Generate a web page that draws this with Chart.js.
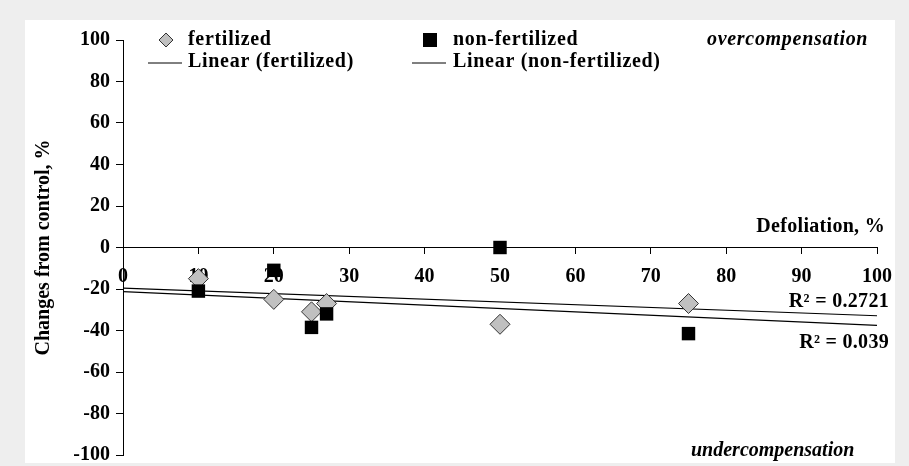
<!DOCTYPE html>
<html>
<head>
<meta charset="utf-8">
<script src="https://cdn.jsdelivr.net/npm/chart.js@4/dist/chart.umd.min.js"></script>
<style>
  html, body { margin: 0; padding: 0; background: #eeeeee; }
  #wrap { position: relative; width: 909px; height: 466px; }
  #panel { position: absolute; left: 25px; top: 20px; width: 870px; height: 443px; background: #ffffff; }
  #chart { position: absolute; left: 0; top: 0; }
</style>
</head>
<body>
<div id="wrap">
  <div id="panel"></div>
  <canvas id="chart" width="909" height="466"></canvas>
</div>
<script>
// Data
const defoliation = [10, 20, 25, 27, 50, 75];
const fertilized = [-15, -25, -31, -27, -37, -27];
const nonFertilized = [-21, -11, -38.5, -32, 0, -41.5];

// trendline ends (x = 0 and x = 100)
const trendX = [0, 100];
const trendFertilized = [-21.3, -37.5];
const trendNonFertilized = [-19.6, -32.9];

const SERIF = '"Liberation Serif", "Times New Roman", serif';

const pts = (xs, ys) => xs.map((x, i) => ({ x: x, y: ys[i] }));

// Legend + free text (Excel-style annotations)
const annotations = {
  id: 'annotations',
  afterDraw(chart) {
    const ctx = chart.ctx;
    const ds = chart.data.datasets;
    ctx.save();
    ctx.fillStyle = '#000';
    ctx.textBaseline = 'middle';
    ctx.textAlign = 'left';
    ctx.letterSpacing = '0.7px';
    ctx.font = 'bold 20px ' + SERIF;

    // legend, two columns
    const cols = [148, 412];
    const row1 = 40, row2 = 62;
    // markers
    const d = ds[0];
    ctx.beginPath();
    ctx.moveTo(166, row1 - 7); ctx.lineTo(173, row1); ctx.lineTo(166, row1 + 7); ctx.lineTo(159, row1);
    ctx.closePath();
    ctx.fillStyle = d.backgroundColor; ctx.fill();
    ctx.strokeStyle = d.borderColor; ctx.lineWidth = 1; ctx.stroke();
    ctx.fillStyle = ds[1].backgroundColor;
    ctx.fillRect(423, row1 - 7, 14, 14);

    ctx.fillStyle = '#000';
    ctx.fillText(ds[0].label, 188, row1);
    ctx.fillText(ds[1].label, 453, row1);
    ctx.fillText(ds[2].label, 188, row2);
    ctx.fillText(ds[3].label, 453, row2);
    ctx.strokeStyle = '#000';
    ctx.beginPath();
    ctx.moveTo(cols[0], row2 + 1); ctx.lineTo(cols[0] + 34, row2 + 1);
    ctx.moveTo(cols[1], row2 + 1); ctx.lineTo(cols[1] + 34, row2 + 1);
    ctx.stroke();

    // axis name and R² labels
    ctx.letterSpacing = '0.3px';
    ctx.textAlign = 'right';
    ctx.fillText('Defoliation, %', 885, 227);
    ctx.fillText('R\u00B2 = 0.2721', 889, 302);
    ctx.fillText('R\u00B2 = 0.039', 889, 343);

    // region notes
    ctx.font = 'italic bold 20px ' + SERIF;
    ctx.letterSpacing = '0.7px';
    ctx.textAlign = 'left';
    ctx.fillText('overcompensation', 707, 40);
    ctx.letterSpacing = '0px';
    ctx.fillText('undercompensation', 691, 451);
    ctx.restore();
  }
};

new Chart(document.getElementById('chart'), {
  type: 'scatter',
  data: {
    datasets: [
      {
        label: 'fertilized',
        data: pts(defoliation, fertilized),
        pointStyle: 'rectRot',
        pointRadius: 10,
        backgroundColor: '#c0c0c0',
        borderColor: '#333333',
        borderWidth: 1,
        order: 1
      },
      {
        label: 'non-fertilized',
        data: pts(defoliation, nonFertilized),
        pointStyle: 'rect',
        pointRadius: 9.5,
        backgroundColor: '#000000',
        borderColor: '#000000',
        borderWidth: 0,
        order: 0
      },
      {
        label: 'Linear (fertilized)',
        type: 'line',
        data: pts(trendX, trendFertilized),
        borderColor: '#000',
        borderWidth: 1.2,
        pointRadius: 0,
        fill: false,
        order: 2
      },
      {
        label: 'Linear (non-fertilized)',
        type: 'line',
        data: pts(trendX, trendNonFertilized),
        borderColor: '#000',
        borderWidth: 1.2,
        pointRadius: 0,
        fill: false,
        order: 2
      }
    ]
  },
  options: {
    responsive: false,
    animation: false,
    layout: { padding: { left: 0, right: 32, top: 40, bottom: 10 } },
    plugins: {
      legend: { display: false },
      tooltip: { enabled: false }
    },
    scales: {
      x: {
        type: 'linear',
        position: { y: 0 },
        min: 0,
        max: 100,
        ticks: {
          stepSize: 10,
          padding: 11,
          color: '#000',
          font: { family: SERIF, size: 20, weight: 'bold' }
        },
        grid: { drawOnChartArea: false, drawTicks: true, tickLength: 6, color: '#000' },
        border: { display: true, color: '#000', width: 1 },
        afterFit(scale) { scale.height = 0; scale.paddingLeft = 0; scale.paddingRight = 0; }
      },
      y: {
        type: 'linear',
        position: 'left',
        min: -100,
        max: 100,
        ticks: {
          stepSize: 20,
          padding: 6,
          color: '#000',
          font: { family: SERIF, size: 20, weight: 'bold' }
        },
        grid: { drawOnChartArea: false, drawTicks: true, tickLength: 7, color: '#000' },
        border: { display: true, color: '#000', width: 1 },
        title: {
          display: true,
          text: 'Changes from control, %',
          color: '#000',
          padding: { top: 32, bottom: 0 },
          font: { family: SERIF, size: 20, weight: 'bold' }
        },
        afterFit(scale) { scale.width = 123; scale.paddingTop = 0; scale.paddingBottom = 0; }
      }
    }
  },
  plugins: [annotations]
});
</script>
</body>
</html>
